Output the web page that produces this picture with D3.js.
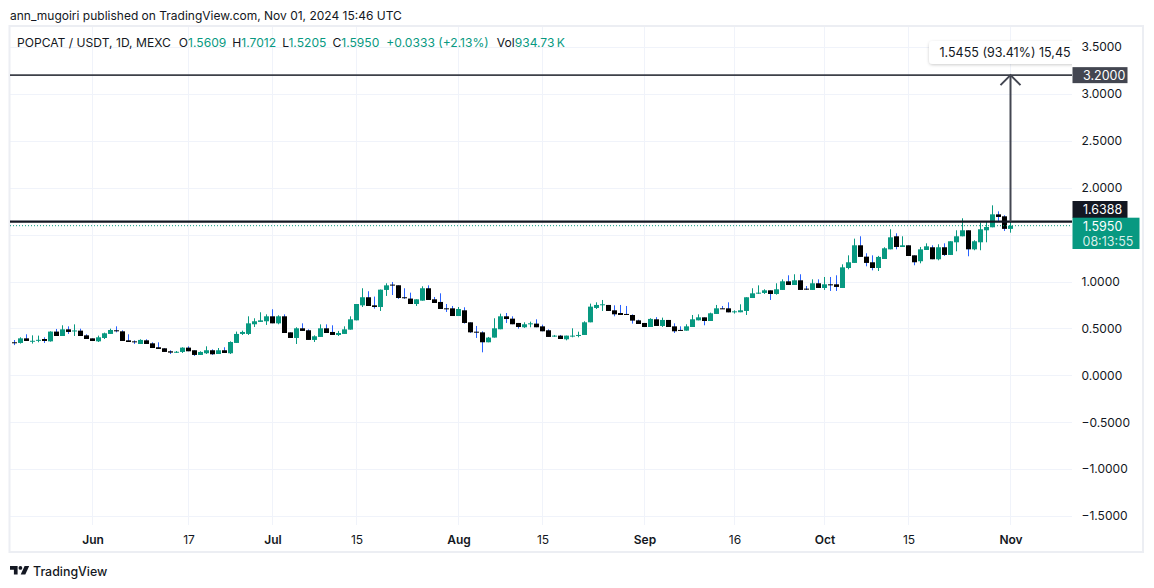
<!DOCTYPE html>
<html><head><meta charset="utf-8">
<script src="https://cdn.jsdelivr.net/npm/d3@7"></script>
<style>body{margin:0;background:#fff}svg{display:block;font-family:Inter,"Noto Sans",sans-serif}</style>
</head><body><svg id="c" width="1154" height="588"></svg>
<script>
// ---- data ----
const firstDay = "2024-05-19";
const lastDay = "2024-11-01";
const open = [0.352,0.345,0.394,0.362,0.372,0.387,0.362,0.466,0.419,0.490,0.474,0.476,0.426,0.394,0.362,0.398,0.441,0.480,0.469,0.373,
0.362,0.334,0.373,0.341,0.299,0.288,0.256,0.247,0.249,0.295,0.267,0.217,0.235,0.267,0.227,0.267,0.235,0.345,0.441,0.441,
0.544,0.569,0.576,0.629,0.554,0.629,0.458,0.398,0.501,0.480,0.377,0.409,0.501,0.462,0.430,0.441,0.487,0.586,0.746,0.832,
0.746,0.728,0.910,0.967,0.960,0.832,0.818,0.760,0.796,0.928,0.810,0.782,0.714,0.714,0.632,0.693,0.565,0.465,0.458,0.352,
0.402,0.491,0.629,0.604,0.558,0.512,0.549,0.551,0.522,0.480,0.416,0.423,0.384,0.416,0.423,0.430,0.565,0.718,0.750,0.750,
0.693,0.664,0.654,0.643,0.586,0.558,0.515,0.597,0.526,0.590,0.522,0.484,0.476,0.515,0.586,0.618,0.579,0.654,0.714,0.714,
0.672,0.672,0.686,0.824,0.874,0.878,0.906,0.867,0.910,1.002,0.963,1.013,0.924,0.910,0.981,0.931,0.970,0.970,0.931,1.144,
1.198,1.386,1.265,1.205,1.144,1.240,1.343,1.482,1.368,1.386,1.279,1.216,1.336,1.365,1.237,1.365,1.283,1.418,1.482,1.546,
1.343,1.418,1.546,1.578,1.716,1.695,1.5609];
const high = [0.376,0.405,0.437,0.426,0.423,0.405,0.469,0.494,0.533,0.522,0.543,0.497,0.437,0.394,0.423,0.455,0.497,0.522,0.480,0.437,
0.373,0.384,0.384,0.352,0.352,0.290,0.267,0.259,0.299,0.309,0.267,0.256,0.309,0.277,0.291,0.299,0.362,0.466,0.476,0.629,
0.608,0.672,0.650,0.704,0.640,0.650,0.458,0.512,0.554,0.490,0.426,0.543,0.543,0.533,0.473,0.522,0.629,0.760,0.928,0.896,
0.839,0.914,0.981,0.995,0.960,0.928,0.881,0.810,0.949,0.959,0.835,0.874,0.760,0.739,0.728,0.725,0.565,0.526,0.469,0.409,
0.608,0.657,0.664,0.629,0.558,0.565,0.572,0.597,0.540,0.490,0.430,0.430,0.423,0.501,0.465,0.576,0.764,0.778,0.803,0.750,
0.746,0.750,0.739,0.650,0.593,0.558,0.608,0.620,0.615,0.590,0.554,0.522,0.544,0.643,0.650,0.618,0.668,0.750,0.739,0.778,
0.693,0.757,0.832,0.928,0.959,0.917,0.906,0.981,1.023,1.066,1.077,1.077,0.952,1.023,1.023,1.048,1.048,1.066,1.183,1.279,
1.457,1.482,1.301,1.279,1.273,1.365,1.557,1.514,1.482,1.386,1.279,1.368,1.407,1.386,1.397,1.407,1.429,1.546,1.674,1.546,
1.440,1.628,1.642,1.812,1.748,1.706,1.7012];
const low = [0.322,0.338,0.366,0.338,0.352,0.345,0.359,0.419,0.419,0.441,0.419,0.419,0.387,0.366,0.355,0.387,0.441,0.458,0.366,0.355,
0.334,0.334,0.334,0.291,0.281,0.249,0.227,0.238,0.238,0.256,0.206,0.217,0.227,0.217,0.227,0.238,0.227,0.345,0.430,0.430,
0.515,0.569,0.537,0.554,0.544,0.451,0.398,0.334,0.473,0.377,0.355,0.409,0.451,0.430,0.419,0.441,0.487,0.586,0.728,0.739,
0.711,0.686,0.846,0.856,0.814,0.814,0.760,0.739,0.796,0.803,0.771,0.707,0.675,0.632,0.632,0.551,0.451,0.398,0.245,0.352,
0.402,0.491,0.558,0.544,0.497,0.505,0.512,0.512,0.469,0.409,0.409,0.387,0.373,0.405,0.405,0.430,0.565,0.707,0.686,0.686,
0.629,0.643,0.643,0.551,0.547,0.515,0.515,0.526,0.515,0.515,0.451,0.476,0.476,0.515,0.586,0.533,0.579,0.654,0.707,0.671,
0.658,0.672,0.643,0.824,0.867,0.867,0.803,0.860,0.910,0.963,0.963,0.910,0.910,0.910,0.931,0.910,0.899,0.899,0.931,1.130,
1.198,1.262,1.162,1.119,1.112,1.240,1.343,1.343,1.368,1.272,1.173,1.194,1.336,1.237,1.226,1.272,1.283,1.322,1.482,1.269,
1.333,1.333,1.418,1.578,1.638,1.539,1.5205];
const close = [0.345,0.394,0.366,0.368,0.378,0.366,0.466,0.419,0.490,0.462,0.478,0.419,0.387,0.366,0.405,0.448,0.483,0.469,0.366,0.355,
0.355,0.377,0.334,0.291,0.281,0.249,0.242,0.251,0.295,0.256,0.217,0.249,0.267,0.224,0.267,0.238,0.355,0.441,0.462,0.554,
0.576,0.586,0.629,0.554,0.629,0.451,0.398,0.501,0.473,0.377,0.416,0.501,0.451,0.430,0.451,0.490,0.597,0.760,0.832,0.739,
0.728,0.913,0.959,0.960,0.824,0.824,0.760,0.810,0.928,0.803,0.771,0.707,0.707,0.632,0.707,0.558,0.458,0.458,0.352,0.402,
0.501,0.629,0.600,0.544,0.515,0.544,0.554,0.512,0.469,0.409,0.423,0.387,0.423,0.423,0.430,0.565,0.732,0.750,0.757,0.686,
0.650,0.643,0.647,0.583,0.547,0.515,0.601,0.526,0.590,0.515,0.469,0.476,0.522,0.597,0.618,0.579,0.661,0.714,0.707,0.671,
0.682,0.693,0.832,0.874,0.881,0.906,0.867,0.917,1.002,0.963,1.013,0.910,0.913,0.981,0.931,0.970,0.959,0.942,1.151,1.205,
1.386,1.262,1.198,1.144,1.262,1.354,1.471,1.368,1.386,1.272,1.205,1.343,1.375,1.237,1.365,1.283,1.429,1.482,1.546,1.343,
1.429,1.557,1.581,1.716,1.688,1.561,1.5950];
const priceTicks = [3.5,3.0,2.5,2.0,1.5,1.0,0.5,0,-0.5,-1.0,-1.5];
const hiddenPriceLabels = [1.5];
const timeTicks = ["2024-06-01","2024-06-17","2024-07-01","2024-07-15","2024-08-01","2024-08-15","2024-09-01","2024-09-16","2024-10-01","2024-10-15","2024-11-01"];
const timeTickLabels = ["Jun","17","Jul","15","Aug","15","Sep","16","Oct","15","Nov"];
const upperLevel = 3.2;
const lowerLevel = 1.6388;
const lastPrice = 1.5950;
const measureText = "1.5455 (93.41%) 15,45";
const countdown = "08:13:55";
const headerText = "ann_mugoiri published on TradingView.com, Nov 01, 2024 15:46 UTC";

// ---- drawing ----
const GREEN = "#089981", BLUE = "#2962ff", DOWN = "#000000", INK = "#131722";
const svg = d3.select("#c");
const parse = d3.utcParse("%Y-%m-%d");
const days = d3.utcDay.range(parse(firstDay), d3.utcDay.offset(parse(lastDay), 1));
const data = days.map((d, i) => ({d, o: open[i], h: high[i], l: low[i], c: close[i]}));
const P = {left: 10, right: 1072, top: 27, bottom: 525};
const x = d3.scaleUtc().domain([parse(firstDay), parse(lastDay)]).range([14, 1010]);
const y = d3.scaleLinear().domain([-1.5, 3.5]).range([516, 47]);

svg.append("rect").attr("width", 1154).attr("height", 588).attr("fill", "#fff");
const defs = svg.append("defs");
defs.append("clipPath").attr("id", "plot").append("rect")
  .attr("x", P.left).attr("y", P.top).attr("width", P.right - P.left).attr("height", P.bottom - P.top);
defs.append("filter").attr("id", "sh").attr("x", "-20%").attr("y", "-60%").attr("width", "140%").attr("height", "220%")
  .append("feDropShadow").attr("dx", 0).attr("dy", 1).attr("stdDeviation", 1.6)
  .attr("flood-color", "#000").attr("flood-opacity", 0.2);

// header
svg.append("text").attr("x", 10).attr("y", 20).attr("font-size", 12).attr("fill", INK).text(headerText);

// grid
const g = svg.append("g");
g.selectAll(".hg").data(priceTicks).join("line")
  .attr("x1", P.left).attr("x2", P.right)
  .attr("y1", d => Math.round(y(d)) + 0.5).attr("y2", d => Math.round(y(d)) + 0.5)
  .attr("stroke", "#f0f3fa").attr("stroke-width", 1);
g.selectAll(".vg").data(timeTicks).join("line")
  .attr("x1", d => Math.round(x(parse(d))) + 0.5).attr("x2", d => Math.round(x(parse(d))) + 0.5)
  .attr("y1", P.top).attr("y2", P.bottom)
  .attr("stroke", "#f0f3fa").attr("stroke-width", 1);

// frame
svg.append("rect").attr("x", 9.5).attr("y", 26).attr("width", 1133.5).attr("height", 526)
  .attr("fill", "none").attr("stroke", "#eceef3").attr("stroke-width", 2);

// candles
const cg = svg.append("g").attr("clip-path", "url(#plot)");
const bw = 5;
const cand = cg.selectAll("g.c").data(data).join("g");
cand.append("line")
  .attr("x1", d => Math.round(x(d.d)) + 0.5).attr("x2", d => Math.round(x(d.d)) + 0.5)
  .attr("y1", d => y(d.h)).attr("y2", d => y(d.l))
  .attr("stroke", d => d.c >= d.o ? GREEN : BLUE).attr("stroke-width", 1);
cand.append("rect")
  .attr("x", d => Math.round(x(d.d)) - 2)
  .attr("width", bw)
  .attr("y", d => Math.min(y(d.o), y(d.c)))
  .attr("height", d => Math.max(1, Math.abs(y(d.o) - y(d.c))))
  .attr("fill", d => d.c >= d.o ? GREEN : DOWN);

// horizontal levels
const lg = svg.append("g").attr("clip-path", "url(#plot)");
lg.append("line").attr("x1", P.left).attr("x2", P.right).attr("y1", y(lastPrice)).attr("y2", y(lastPrice))
  .attr("stroke", GREEN).attr("stroke-width", 1).attr("stroke-dasharray", "1,2");
lg.append("line").attr("x1", P.left).attr("x2", P.right).attr("y1", y(upperLevel)).attr("y2", y(upperLevel))
  .attr("stroke", "#3d4049").attr("stroke-width", 1.8);
lg.append("line").attr("x1", P.left).attr("x2", P.right).attr("y1", y(lowerLevel)).attr("y2", y(lowerLevel))
  .attr("stroke", INK).attr("stroke-width", 2.2);

// measure arrow
const ax = Math.round(x(parse(lastDay))) + 0.5;
lg.append("line").attr("x1", ax).attr("x2", ax).attr("y1", y(upperLevel)).attr("y2", y(lowerLevel))
  .attr("stroke", "#434651").attr("stroke-width", 2);
lg.append("path").attr("d", `M${ax - 10},${y(upperLevel) + 10}L${ax},${y(upperLevel)}L${ax + 10},${y(upperLevel) + 10}`)
  .attr("fill", "none").attr("stroke", "#434651").attr("stroke-width", 2);

// measure tooltip
const tg = svg.append("g").attr("clip-path", "url(#plot)");
tg.append("rect").attr("x", 929).attr("y", 41).attr("width", 170).attr("height", 23).attr("rx", 4)
  .attr("fill", "#fff").attr("filter", "url(#sh)");
tg.append("text").attr("x", 939.5).attr("y", 57).attr("font-size", 12.5).attr("fill", INK).text(measureText);

// legend
const leg = svg.append("text").attr("x", 17).attr("y", 47).attr("font-size", 12.1).attr("fill", INK);
leg.append("tspan").text("POPCAT / USDT, 1D, MEXC");
[["O", "1.5609"], ["H", "1.7012"], ["L", "1.5205"], ["C", "1.5950"]].forEach(([k, v], i) => {
  leg.append("tspan").attr("dx", i === 0 ? 8 : 6).text(k);
  leg.append("tspan").attr("fill", GREEN).text(v);
});
leg.append("tspan").attr("dx", 7).attr("fill", GREEN).text("+0.0333 (+2.13%)");
leg.append("tspan").attr("dx", 8).text("Vol");
leg.append("tspan").attr("fill", GREEN).text("934.73\u2009K");

// price axis
const fmt = d3.format(".4f");
svg.append("g").selectAll("text").data(priceTicks.filter(t => !hiddenPriceLabels.includes(t))).join("text")
  .attr("x", 1081.5).attr("y", d => y(d)).attr("dy", "0.36em")
  .attr("font-size", 12).attr("fill", INK).text(d => fmt(d));

// price labels boxes
const pl = svg.append("g").attr("font-size", 12.5);
pl.append("rect").attr("x", 1072.5).attr("y", y(upperLevel) - 8).attr("width", 55).attr("height", 16).attr("fill", "#434651");
pl.append("text").attr("x", 1083).attr("y", y(upperLevel)).attr("dy", "0.36em").attr("fill", "#fff").text(fmt(upperLevel));
pl.append("rect").attr("x", 1072.5).attr("y", 201).attr("width", 55).attr("height", 17).attr("fill", INK);
pl.append("text").attr("x", 1083).attr("y", 209.5).attr("dy", "0.36em").attr("fill", "#fff").text(fmt(lowerLevel));
pl.append("rect").attr("x", 1072.5).attr("y", 217.7).attr("width", 67).attr("height", 31.3).attr("fill", GREEN);
pl.append("text").attr("x", 1083).attr("y", 226.5).attr("dy", "0.36em").attr("fill", "#fff").text(fmt(lastPrice));
pl.append("text").attr("x", 1082.5).attr("y", 241).attr("dy", "0.36em").attr("fill", "#fff").attr("fill-opacity", 0.85).text(countdown);

// time axis
svg.append("g").selectAll("text").data(timeTicks).join("text")
  .attr("x", d => x(parse(d)) + 1).attr("y", 544).attr("text-anchor", "middle")
  .attr("font-size", 12).attr("fill", INK)
  .attr("font-weight", (d, i) => isNaN(+timeTickLabels[i]) ? 600 : 400)
  .text((d, i) => timeTickLabels[i]);

// footer logo
const lo = svg.append("g").attr("transform", "translate(10,566)").attr("fill", INK);
lo.append("path").attr("d", "M0,0H7.6V8.4H3.9V3.7H0Z");
lo.append("circle").attr("cx", 10.4).attr("cy", 1.9).attr("r", 1.9);
lo.append("path").attr("d", "M14.6,0H19.2L15.3,8.4H10.7Z");
svg.append("text").attr("x", 33).attr("y", 576).attr("font-size", 12.4).attr("font-weight", 500).attr("fill", INK).text("TradingView");
</script></body></html>
